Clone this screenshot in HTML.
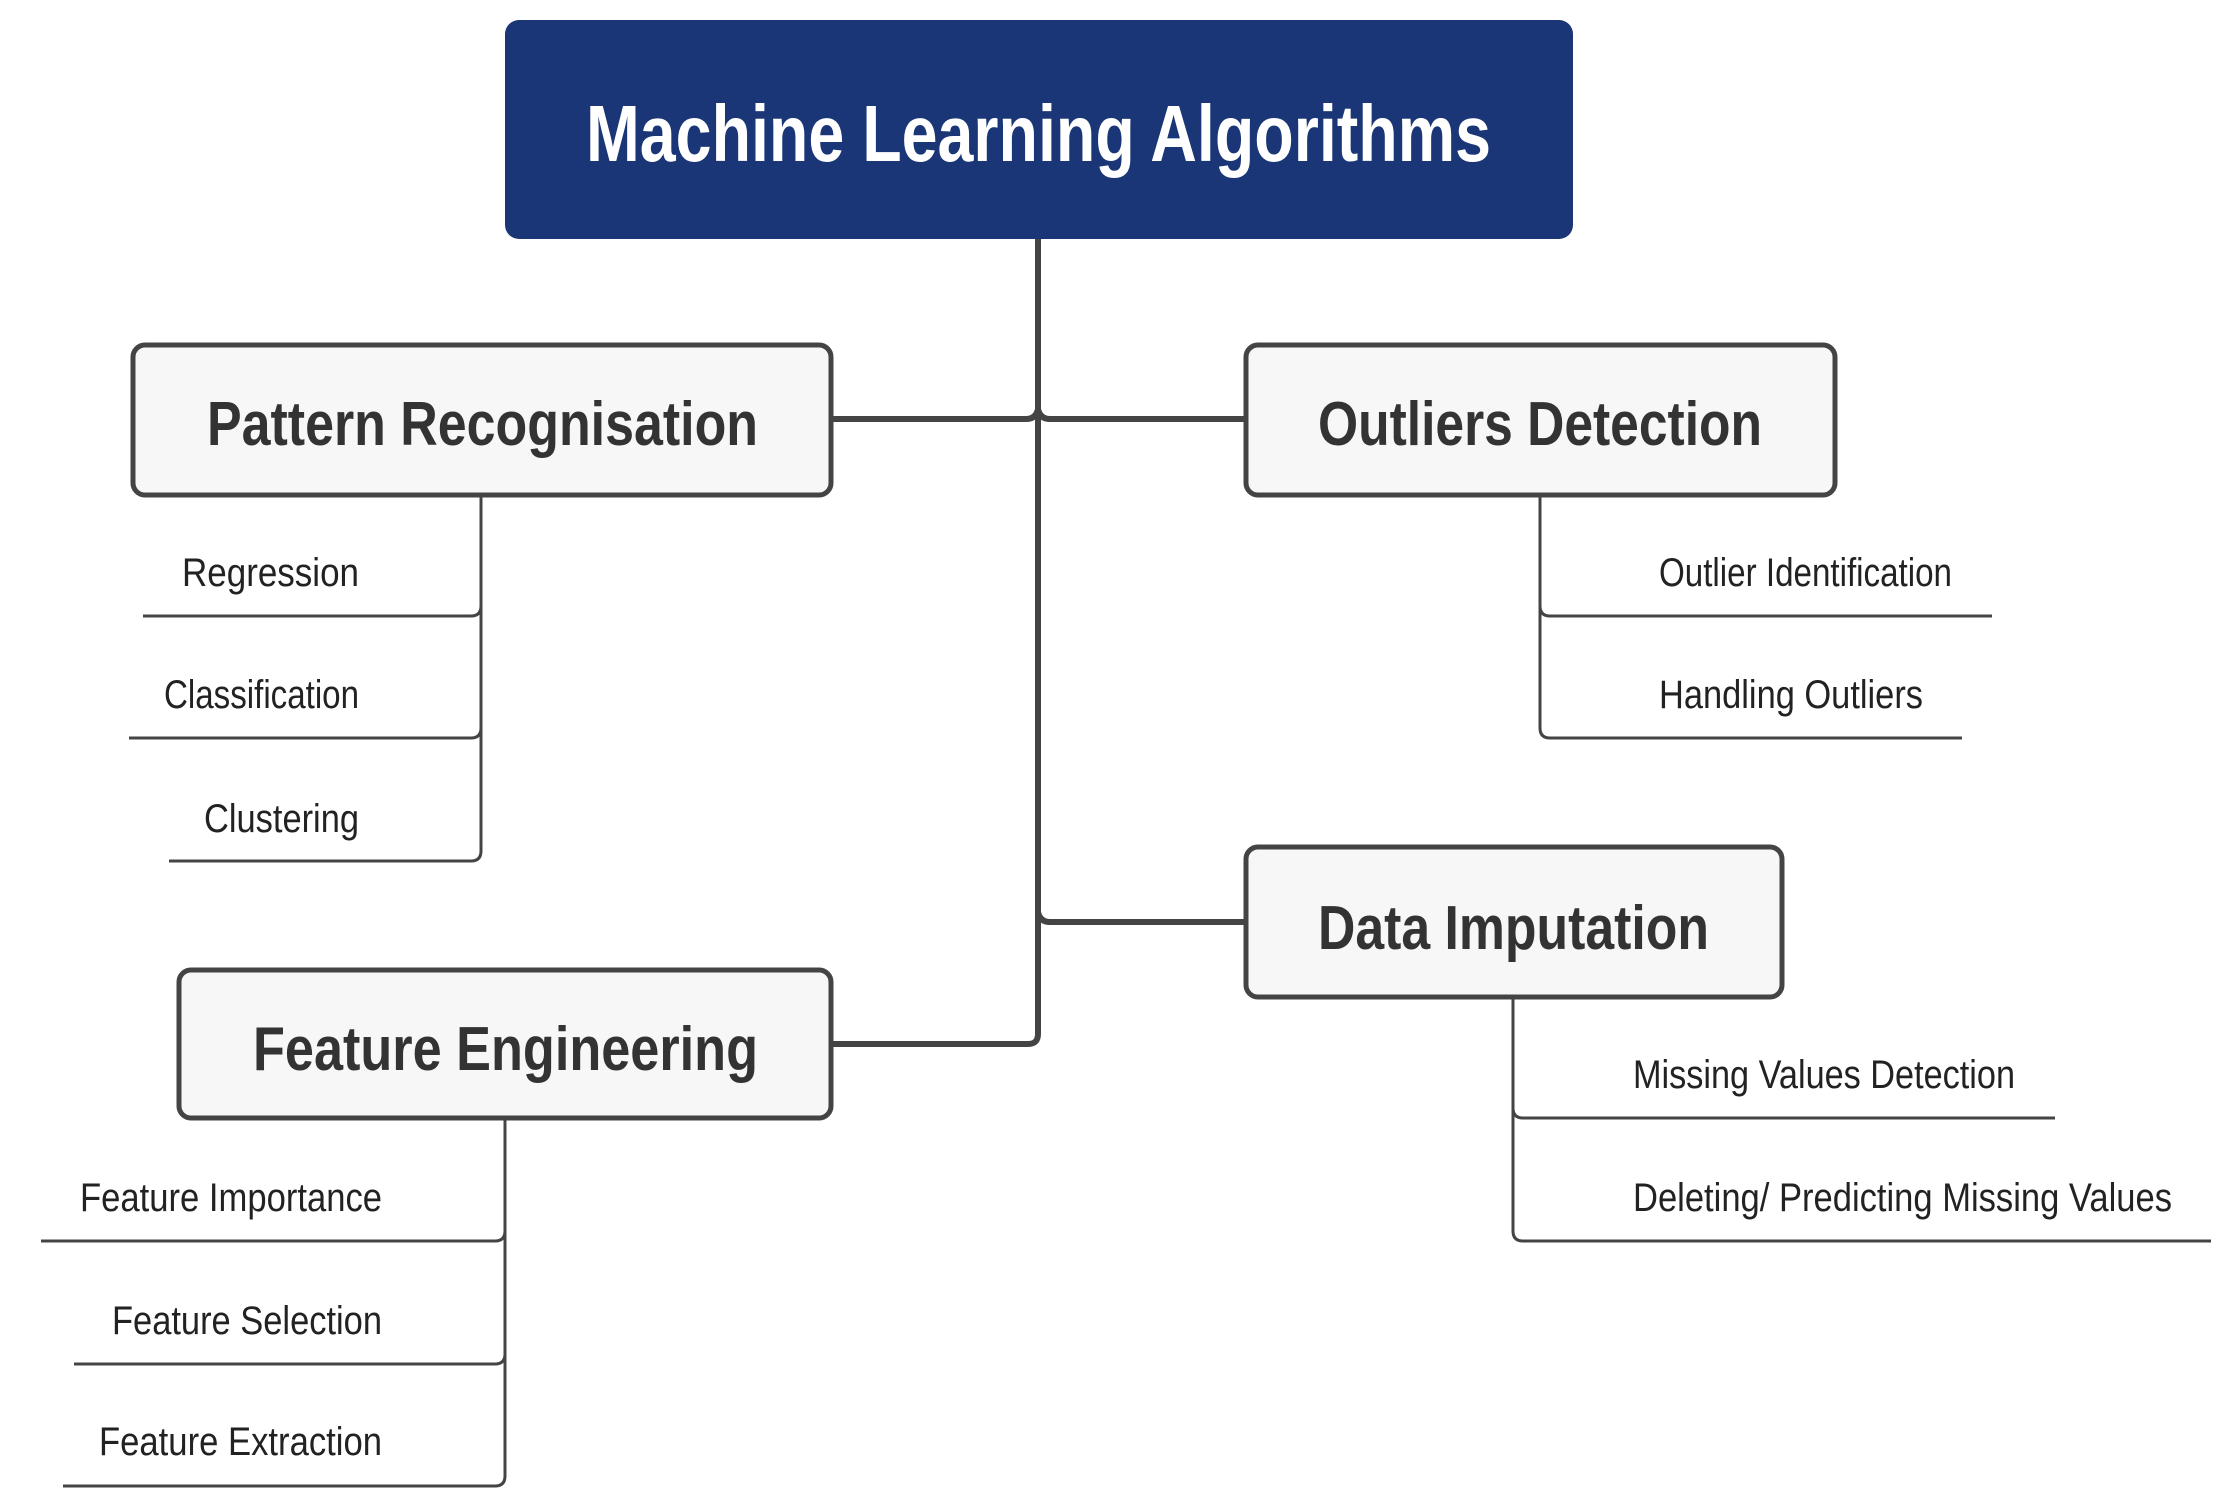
<!DOCTYPE html>
<html><head><meta charset="utf-8"><style>
html,body{margin:0;padding:0;background:#fff;}
svg{display:block;}
</style></head><body>
<svg width="2240" height="1512" viewBox="0 0 2240 1512" xmlns="http://www.w3.org/2000/svg" font-family="'Liberation Sans', Arial, sans-serif">
<!-- trunk connectors -->
<g fill="none" stroke="#444" stroke-width="6" stroke-linejoin="round">
<path d="M1038 239 V1034 Q1038 1044 1028 1044 H831"/>
<path d="M831 419 H1026 Q1036 419 1038 409"/>
<path d="M1246 419 H1050 Q1040 419 1038 409"/>
<path d="M1038 912 Q1040 922 1050 922 H1246"/>
</g>
<!-- child lines -->
<g fill="none" stroke="#444" stroke-width="3">
<path d="M481 495 V606 Q481 616 471 616 H143"/>
<path d="M481 606 V728 Q481 738 471 738 H129"/>
<path d="M481 728 V851 Q481 861 471 861 H169"/>
<path d="M1540 495 V606 Q1540 616 1550 616 H1992"/>
<path d="M1540 606 V728 Q1540 738 1550 738 H1962"/>
<path d="M1513 997 V1108 Q1513 1118 1523 1118 H2055"/>
<path d="M1513 1108 V1231 Q1513 1241 1523 1241 H2211"/>
<path d="M505 1118 V1231 Q505 1241 495 1241 H41"/>
<path d="M505 1231 V1354 Q505 1364 495 1364 H74"/>
<path d="M505 1354 V1476 Q505 1486 495 1486 H63"/>
</g>
<!-- root -->
<rect x="505" y="20" width="1068" height="219" rx="14" fill="#1b3677"/>
<text x="586" y="161" font-size="80" font-weight="bold" fill="#fff" textLength="905" lengthAdjust="spacingAndGlyphs">Machine Learning Algorithms</text>
<!-- boxes -->
<g fill="#f7f7f7" stroke="#444" stroke-width="5">
<rect x="133" y="345" width="698" height="150" rx="12"/>
<rect x="1246" y="345" width="589" height="150" rx="12"/>
<rect x="1246" y="847" width="536" height="150" rx="12"/>
<rect x="179" y="970" width="652" height="148" rx="12"/>
</g>
<g font-size="62" font-weight="bold" fill="#333">
<text x="207" y="445" textLength="551" lengthAdjust="spacingAndGlyphs">Pattern Recognisation</text>
<text x="1318" y="445" textLength="444" lengthAdjust="spacingAndGlyphs">Outliers Detection</text>
<text x="1318" y="949" textLength="391" lengthAdjust="spacingAndGlyphs">Data Imputation</text>
<text x="253" y="1070" textLength="505" lengthAdjust="spacingAndGlyphs">Feature Engineering</text>
</g>
<g font-size="40" fill="#222">
<text x="182" y="586" textLength="177" lengthAdjust="spacingAndGlyphs">Regression</text>
<text x="164" y="708" textLength="195" lengthAdjust="spacingAndGlyphs">Classification</text>
<text x="204" y="832" textLength="155" lengthAdjust="spacingAndGlyphs">Clustering</text>
<text x="1659" y="586" textLength="293" lengthAdjust="spacingAndGlyphs">Outlier Identification</text>
<text x="1659" y="708" textLength="264" lengthAdjust="spacingAndGlyphs">Handling Outliers</text>
<text x="1633" y="1088" textLength="382" lengthAdjust="spacingAndGlyphs">Missing Values Detection</text>
<text x="1633" y="1211" textLength="539" lengthAdjust="spacingAndGlyphs">Deleting/ Predicting Missing Values</text>
<text x="80" y="1211" textLength="302" lengthAdjust="spacingAndGlyphs">Feature Importance</text>
<text x="112" y="1334" textLength="270" lengthAdjust="spacingAndGlyphs">Feature Selection</text>
<text x="99" y="1455" textLength="283" lengthAdjust="spacingAndGlyphs">Feature Extraction</text>
</g>
</svg>
</body></html>
